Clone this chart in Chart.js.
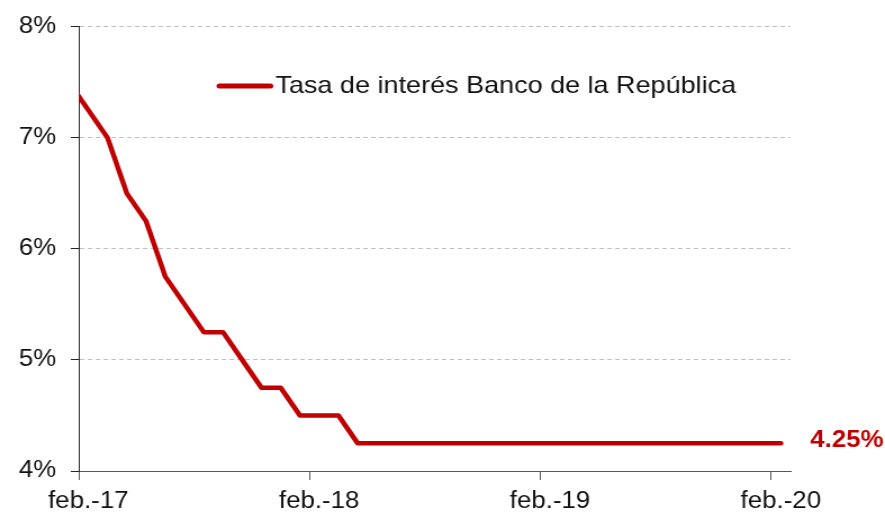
<!DOCTYPE html>
<html>
<head>
<meta charset="utf-8">
<script src="https://cdn.jsdelivr.net/npm/chart.js@4/dist/chart.umd.min.js"></script>
<style>
  body { margin: 0; background: #fff; overflow: hidden; }
  /* la imagen original viene estirada a lo ancho */
  #wrap { position: relative; width: 787px; height: 520px; transform: scaleX(1.1245); transform-origin: 0 0; }
</style>
</head>
<body>
<div id="wrap"><canvas id="tasaChart"></canvas></div>
<script>
// Tasa mensual (promedio a mitad de mes), ene.-17 a feb.-20
const months = [
  'ene.-17', 'feb.-17', 'mar.-17', 'abr.-17', 'may.-17', 'jun.-17', 'jul.-17', 'ago.-17', 'sep.-17', 'oct.-17', 'nov.-17', 'dic.-17',
  'ene.-18', 'feb.-18', 'mar.-18', 'abr.-18', 'may.-18', 'jun.-18', 'jul.-18', 'ago.-18', 'sep.-18', 'oct.-18', 'nov.-18', 'dic.-18',
  'ene.-19', 'feb.-19', 'mar.-19', 'abr.-19', 'may.-19', 'jun.-19', 'jul.-19', 'ago.-19', 'sep.-19', 'oct.-19', 'nov.-19', 'dic.-19',
  'ene.-20', 'feb.-20'
];
const rates = [
  7.5, 7.25, 7.0, 6.5, 6.25, 5.75, 5.5, 5.25, 5.25, 5.0, 4.75, 4.75,
  4.5, 4.5, 4.5, 4.25, 4.25, 4.25, 4.25, 4.25, 4.25, 4.25, 4.25, 4.25,
  4.25, 4.25, 4.25, 4.25, 4.25, 4.25, 4.25, 4.25, 4.25, 4.25, 4.25, 4.25,
  4.25, 4.25
];
const tickLabels = ['feb.-17', 'feb.-18', 'feb.-19', 'feb.-20'];
const seriesName = 'Tasa de interés Banco de la República';

const red = '#c00000';
const fontFamily = '"Liberation Sans", Arial, sans-serif';

// eje x en meses desde el inicio de feb.-17; cada dato va a mitad de su mes
const base = months.indexOf('feb.-17');
const points = rates.map((v, i) => ({ x: i - base + 0.5, y: v }));
const tickValues = tickLabels.map(l => months.indexOf(l) - base);

// leyenda dentro del área y etiqueta del último valor
const overlay = {
  id: 'overlay',
  afterDraw(chart) {
    const { ctx, scales: { x, y } } = chart;
    ctx.save();
    ctx.strokeStyle = red;
    ctx.lineWidth = 5;
    ctx.lineCap = 'round';
    ctx.beginPath();
    ctx.moveTo(195, 86);
    ctx.lineTo(240.5, 86);
    ctx.stroke();
    ctx.font = '24px ' + fontFamily;
    ctx.fillStyle = '#111';
    ctx.textBaseline = 'alphabetic';
    ctx.fillText(seriesName, 245, 93);

    const last = points[points.length - 1];
    ctx.font = 'bold 23px ' + fontFamily;
    ctx.fillStyle = red;
    ctx.fillText(last.y.toFixed(2) + '%', x.getPixelForValue(last.x) + 26, y.getPixelForValue(last.y) + 4);
    ctx.restore();
  }
};

const ctx = document.getElementById('tasaChart').getContext('2d');
new Chart(ctx, {
  type: 'line',
  data: {
    datasets: [{
      label: seriesName,
      data: points,
      borderColor: red,
      borderWidth: 4.5,
      borderCapStyle: 'round',
      borderJoinStyle: 'round',
      pointRadius: 0,
      tension: 0,
      clip: 0
    }]
  },
  options: {
    responsive: true,
    maintainAspectRatio: false,
    animation: false,
    layout: { padding: { top: 24, right: 84, left: 0, bottom: 0 } },
    plugins: { legend: { display: false }, tooltip: { enabled: false } },
    scales: {
      x: {
        type: 'linear',
        min: 0,
        max: months.length - base,
        afterBuildTicks: s => { s.ticks = tickValues.map(v => ({ value: v })); },
        afterFit: s => { s.height = 49; },
        ticks: {
          callback: v => tickLabels[tickValues.indexOf(v)],
          autoSkip: false,
          maxRotation: 0,
          labelOffset: 8.5,
          padding: 8,
          color: '#111',
          font: { family: fontFamily, size: 23 }
        },
        grid: { drawOnChartArea: false, tickLength: 9, tickColor: '#595959' },
        border: { color: '#595959', width: 1 }
      },
      y: {
        min: 4,
        max: 8,
        afterFit: s => { s.width = 70; },
        ticks: {
          stepSize: 1,
          callback: v => v + '%',
          padding: 13,
          color: '#111',
          font: { family: fontFamily, size: 23 }
        },
        grid: {
          color: c => (c.tick && c.tick.value === 4 ? 'rgba(0,0,0,0)' : '#bfbfbf'),
          tickColor: '#262626',
          tickLength: 7
        },
        border: { color: '#262626', width: 1, dash: [4, 3] }
      }
    }
  },
  plugins: [overlay]
});
</script>
</body>
</html>
